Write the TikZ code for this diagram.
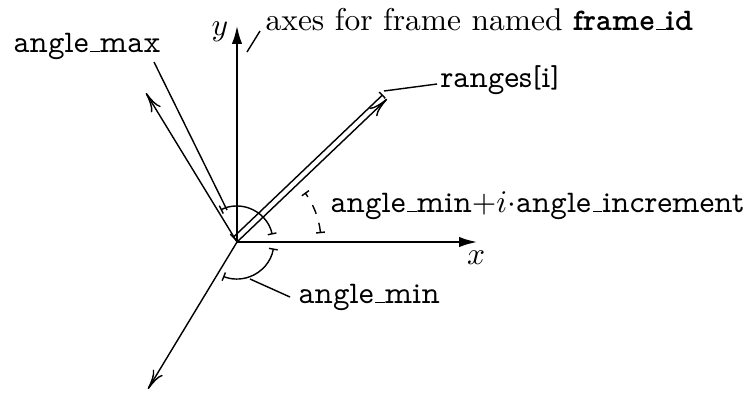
\documentclass[tikz,border=0pt]{standalone}
\usepackage{fontspec}
\usetikzlibrary{arrows.meta}
\newfontfamily\proptt{lmmonoprop10-regular.otf}[BoldFont=lmmonoproplt10-bold.otf]
\newcommand{\usc}{\leavevmode\kern.06em\vbox{\hrule width.3em}}
\newcommand{\ptt}[1]{{\proptt #1}}
\begin{document}
\begin{tikzpicture}[x=0.3175pt,y=0.3175pt,
  axis/.style={line width=0.9pt,-{Latex[length=6pt,width=3.3pt]}},
  ray/.style={line width=0.45pt,-{Computer Modern Rightarrow[length=6.2pt,width=3.6pt]}},
  dim/.style={line width=0.45pt,{Bar[width=2.8pt]}-{Bar[width=2.8pt]}},
  leader/.style={line width=0.45pt},
  lbl/.style={inner sep=0pt,anchor=base west}]
\useasboundingbox (0,0) rectangle (749,392);
\coordinate (O) at (237,150);
\coordinate (X) at (478,150);
\coordinate (Y) at (237,367);
\coordinate (Amax) at (146,299);
\coordinate (Amin) at (148,3);
\coordinate (R) at (387,293);
\coordinate (D0) at (232.8,154.3);
\coordinate (D1) at (382.8,297.3);
% axes
\draw[axis] (O) -- (X);
\draw[axis] (O) -- (Y);
\node (xl) at (476,134) {$x$};
\node (yl) at (220,360) {$y$};
% rays
\draw[ray] (O) -- (Amax);
\draw[ray] (O) -- (Amin);
\draw[ray] (O) -- (R);
\draw[dim] (D0) -- (D1);
% arcs
\draw[dim] ([shift=(12:36)]O) arc[start angle=12,end angle=117,radius=36];
\draw[dim] ([shift=(-10:37)]O) arc[start angle=-10,end angle=-112,radius=37];
\draw[dim,dashed] ([shift=(6:84)]O) arc[start angle=6,end angle=36,radius=84];
% labels
\node[lbl] (taxes) at (265,362) {axes for frame named \ptt{\bfseries frame\usc id}};
\node[lbl] (tmax) at (13,340) {\ptt{angle\usc max}};
\node[lbl] (trng) at (440,305) {\ptt{ranges[i]}};
\node[lbl] (tmin) at (298,89) {\ptt{angle\usc min}};
\node[lbl] (tinc) at (330,180) {\ptt{angle\usc min}$+i\cdot$\ptt{angle\usc increment}};
% leader lines
\coordinate (la0) at (247,340); \coordinate (la1) at (260,361);
\coordinate (lm0) at (154,330); \coordinate (lm1) at (227,182);
\coordinate (lr0) at (384,301); \coordinate (lr1) at (437,308);
\coordinate (ln0) at (250,113); \coordinate (ln1) at (290,95);
\draw[leader] (la0) -- (la1);
\draw[leader] (lm0) -- (lm1);
\draw[leader] (lr0) -- (lr1);
\draw[leader] (ln0) -- (ln1);
\end{tikzpicture}
\end{document}
